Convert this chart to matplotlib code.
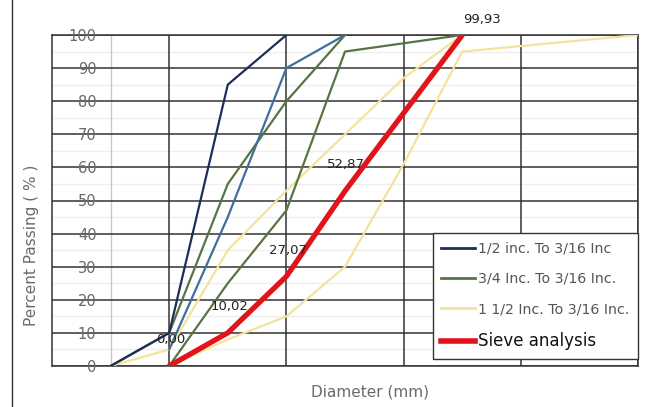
import matplotlib.pyplot as plt
from matplotlib.lines import Line2D

# x positions are in grid units (vertical grid lines at 1..5)
navy_x = [0.5, 1, 1.5, 2]
navy_y = [0, 10, 85, 100]

blue_x = [1, 1.5, 2, 2.5]
blue_y = [5, 45, 90, 100]

green_up_x = [0.5, 1, 1.5, 2, 2.5]
green_up_y = [0, 10, 55, 80, 100]

green_lo_x = [1, 1.5, 2, 2.5, 3.5]
green_lo_y = [0, 25, 47, 95, 100]

yellow_up_x = [0.5, 1, 1.5, 2, 2.5, 3, 3.5]
yellow_up_y = [0, 5, 35, 53, 70, 87, 100]

yellow_lo_x = [1, 1.5, 2, 2.5, 3, 3.5, 5]
yellow_lo_y = [0, 8, 15, 30, 61, 95, 100]

sieve_x = [1, 1.5, 2, 2.5, 3.5]
sieve_y = [0.00, 10.02, 27.07, 52.87, 99.93]

legend_labels = ['1/2 inc. To 3/16 Inc', '3/4 Inc. To 3/16 Inc.',
                 '1 1/2 Inc. To 3/16 Inc.', 'Sieve analysis']

navy = '#1c2e5a'
blue = '#3f6f9c'
green = '#587444'
yellow = '#f3e39c'
red = '#e0141a'

fig = plt.figure(figsize=(6.51, 4.07), dpi=100)
ax = fig.add_axes([52 / 651, 1 - 366 / 407, 586 / 651, 331 / 407])

ax.set_xlim(0, 5)
ax.set_ylim(0, 100)
ax.set_yticks(range(0, 101, 10))
ax.set_xticks([1, 2, 3, 4, 5])
ax.set_xticklabels([])
ax.set_axisbelow(False)
# faint in-between lines, under everything
ax.hlines(range(5, 100, 10), 0, 5, color='#eeeeee', lw=1.0, zorder=0.2)
ax.axvline(0.5, color='#c8c8c8', lw=1.0, zorder=0.5)
ax.grid(True, which='major', color='#333333', lw=1.1, zorder=1)
ax.tick_params(axis='both', which='both', length=0)
ax.tick_params(axis='y', pad=-32, labelsize=10.5, labelcolor='#6a6a6a')
for s in ax.spines.values():
    s.set_color('#333333')
    s.set_linewidth(1.1)

lw = 1.6
ax.plot(yellow_up_x, yellow_up_y, color=yellow, lw=lw, zorder=3)
ax.plot(yellow_lo_x, yellow_lo_y, color=yellow, lw=lw, zorder=3)
ax.plot(green_lo_x, green_lo_y, color=green, lw=lw, zorder=3)
ax.plot(green_up_x, green_up_y, color=green, lw=lw, zorder=3)
ax.plot(blue_x, blue_y, color=blue, lw=lw, zorder=3)
ax.plot(navy_x, navy_y, color=navy, lw=lw, zorder=3)
ax.plot(sieve_x, sieve_y, color=red, lw=3.8, solid_capstyle='round', zorder=5)

for i, (x, y) in enumerate(zip(sieve_x, sieve_y)):
    txt = f'{y:.2f}'.replace('.', ',')
    if i == len(sieve_x) - 1:
        off = (14, 11)
    else:
        off = (1, 19)
    ax.annotate(txt, (x, y), xytext=off, textcoords='offset points',
                ha='center', va='center', fontsize=9.5, color='#222222',
                zorder=6, annotation_clip=False)

handles = [Line2D([], [], color=navy, lw=2),
           Line2D([], [], color=green, lw=2),
           Line2D([], [], color=yellow, lw=2),
           Line2D([], [], color=red, lw=4)]
leg = ax.legend(handles, legend_labels, loc='lower left',
                bbox_to_anchor=(0.638, 0.0), fontsize=10.2, frameon=True,
                fancybox=False, framealpha=1, edgecolor='#333333',
                handlelength=2.4, handletextpad=0.2, labelspacing=1.15,
                borderpad=0.6)
for t in leg.get_texts()[:3]:
    t.set_color('#555555')
leg.get_texts()[3].set_fontsize(12)
leg.get_texts()[3].set_color('#111111')
leg.set_zorder(10)

fig.text(32 / 651, 1 - 245 / 407, 'Percent Passing ( % )', rotation=90,
         ha='center', va='center', fontsize=11, color='#6a6a6a')
fig.text(370 / 651, 1 - 392 / 407, 'Diameter (mm)', ha='center',
         va='center', fontsize=11, color='#6a6a6a')
fig.add_artist(Line2D([12 / 651, 12 / 651], [0, 1], color='#333333', lw=1.0))

fig.savefig('out.png', dpi=100)
